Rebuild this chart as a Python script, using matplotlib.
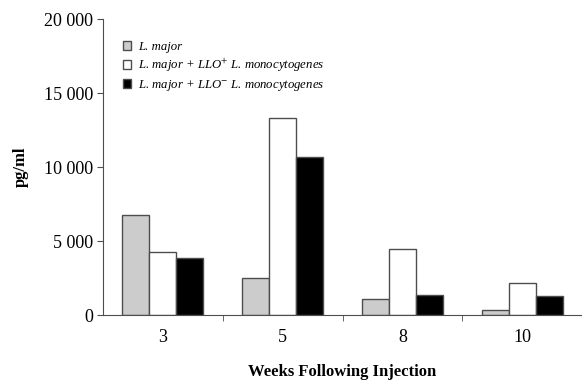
import numpy as np
import matplotlib
matplotlib.use('Agg')
import matplotlib.pyplot as plt
import matplotlib.ticker as ticker

plt.rcParams['font.family'] = 'Liberation Serif'
plt.rcParams['mathtext.fontset'] = 'stix'

# cytokine levels (pg/ml) per week
weeks = ['3', '5', '8', '10']
lmajor = [6750, 2520, 1100, 320]
llo_pos = [4230, 13300, 4480, 2180]
llo_neg = [3850, 10700, 1370, 1300]
labels = ['L. major',
          'L. major + LLO$^{+}$ L. monocytogenes',
          'L. major + LLO$^{-}$ L. monocytogenes']

fig = plt.figure(figsize=(5.82, 3.8), dpi=100)
ax = fig.add_axes([103/582, 1-315/380, 479/582, 296/380])

x = np.arange(len(weeks))
w = 0.225
edge = '#4d4d4d'
ax.bar(x - w, lmajor, w, color='#cccccc', edgecolor=edge, linewidth=1.0, label=labels[0])
ax.bar(x, llo_pos, w, color='white', edgecolor=edge, linewidth=1.0, label=labels[1])
ax.bar(x + w, llo_neg, w, color='black', edgecolor=edge, linewidth=1.0, label=labels[2])

ax.set_xlim(-0.5, len(weeks) - 0.5)
ax.set_ylim(0, 20000)
ax.set_yticks([0, 5000, 10000, 15000, 20000])
ax.yaxis.set_major_formatter(ticker.FuncFormatter(lambda v, p: '{:,}'.format(int(v)).replace(',', ' ')))
ax.set_xticks(x)
ax.set_xticklabels(weeks)
ax.set_xticks(np.arange(0.5, len(weeks) - 0.5, 1), minor=True)
ax.tick_params(axis='x', which='major', length=0, pad=10, labelsize=13)
ax.tick_params(axis='x', which='minor', length=4, color=edge)
ax.tick_params(axis='y', length=4, color=edge, labelsize=13, pad=3)

ax.spines['top'].set_color('None')
ax.spines['right'].set_color('None')
ax.spines['left'].set_color(edge)
ax.spines['bottom'].set_color(edge)

ax.set_ylabel('pg/ml', fontsize=12, fontweight='bold', labelpad=11)
ax.set_xlabel('Weeks Following Injection', fontsize=12, fontweight='bold', labelpad=13)

leg = ax.legend(loc='upper left', bbox_to_anchor=(0.018, 0.965), frameon=False,
                prop={'style': 'italic', 'size': 9.2}, handlelength=0.65, handleheight=0.65,
                handletextpad=0.5, labelspacing=0.3)

plt.savefig('out.png', dpi=100)
